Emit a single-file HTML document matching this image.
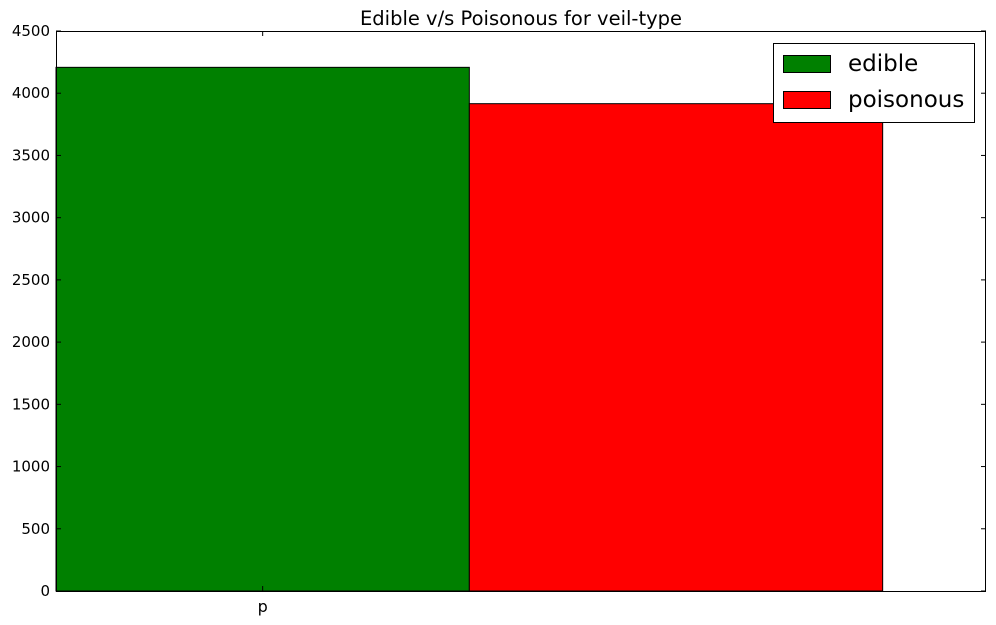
<!DOCTYPE html>
<html><head><meta charset="utf-8"><style>
body{margin:0;background:#fff;}
svg{display:block;font-family:"DejaVu Sans","Liberation Sans",sans-serif;}
</style></head><body>
<svg id="chart" width="996" height="625">
<text x="521" y="25" font-size="19.5" text-anchor="middle">Edible v/s Poisonous for veil-type</text>
<g id="bars"></g>
<g id="axes"></g>
<g>
<rect x="773.5" y="43.5" width="201" height="79" fill="#fff" stroke="#000" stroke-width="1"/>
<rect x="783.5" y="55.5" width="47" height="17" fill="#008000" stroke="#000"/>
<text x="848" y="71" font-size="23">edible</text>
<rect x="783.5" y="91.5" width="47" height="17" fill="#ff0000" stroke="#000"/>
<text x="848" y="107" font-size="23">poisonous</text>
</g>
</svg>
<script>
const categories = ["p"];
const edibleValues = [4208];
const poisonousValues = [3916];
const yTicks = [0,500,1000,1500,2000,2500,3000,3500,4000,4500];
const NS="http://www.w3.org/2000/svg";
const L=56,R=986,T=31,B=591,yMax=4500,xMax=0.9,w=0.4;
const sx=v=>L+(v/xMax)*(R-L);
const sy=v=>B-(v/yMax)*(B-T);
function mk(tag,attrs,parent){const e=document.createElementNS(NS,tag);for(const k in attrs)e.setAttribute(k,attrs[k]);parent.appendChild(e);return e;}
const bars=document.getElementById('bars'),axes=document.getElementById('axes');
categories.forEach((c,i)=>{
  const x0=i*2*w;
  const b1=mk('rect',{x:sx(x0),y:sy(edibleValues[i]),width:sx(x0+w)-sx(x0),height:B-sy(edibleValues[i]),fill:'#008000',stroke:'#000','stroke-width':1},bars);
  
  
  const b2=mk('rect',{x:sx(x0+w),y:sy(poisonousValues[i]),width:sx(x0+2*w)-sx(x0+w),height:B-sy(poisonousValues[i]),fill:'#ff0000',stroke:'#000','stroke-width':1},bars);
  
  
  const tx=sx(x0+w/2);
  mk('line',{x1:tx,x2:tx,y1:B,y2:B-5,stroke:'#000'},axes);
  mk('line',{x1:tx,x2:tx,y1:T,y2:T+5,stroke:'#000'},axes);
  const t=mk('text',{x:tx,y:B+21,'font-size':16,'text-anchor':'middle'},axes);
  t.textContent=c;
  
  
});
yTicks.forEach(v=>{
  const y=sy(v);
  mk('line',{x1:L,x2:L+5,y1:y,y2:y,stroke:'#000'},axes);
  mk('line',{x1:R,x2:R-5,y1:y,y2:y,stroke:'#000'},axes);
  const t=mk('text',{x:L-6,y:y+5,'font-size':15,'text-anchor':'end'},axes);
  t.textContent=v;
  
  
});
const frame=mk('rect',{x:L+0.5,y:T+0.5,width:R-L-1,height:B-T,fill:'none',stroke:'#000','stroke-width':1},axes);


</script>
</body></html>
